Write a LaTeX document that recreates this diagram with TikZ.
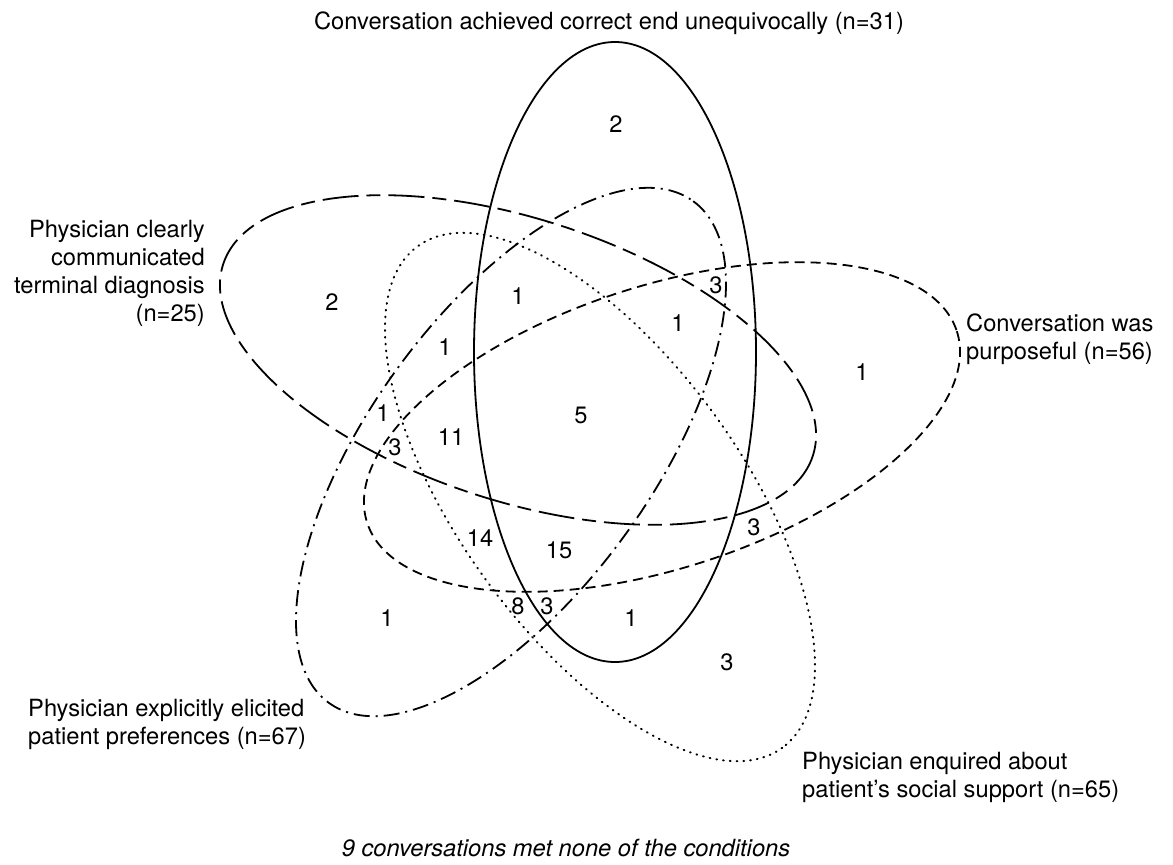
\documentclass[tikz,border=0pt]{standalone}
\usepackage{fontspec}
\setmainfont{TeX Gyre Heros}
\begin{document}
\begin{tikzpicture}[x=1pt,y=-1pt,
  every node/.style={font=\fontsize{23.7}{28}\selectfont, inner sep=0pt},
  setline/.style={line width=1.8pt, black},
  setA/.style={setline},
  setB/.style={setline, dash pattern=on 36pt off 8pt on 14pt off 8pt},
  setC/.style={setline, dash pattern=on 10pt off 6pt},
  setD/.style={setline, dash pattern=on 16pt off 6pt on 2pt off 6pt},
  setE/.style={setline, line cap=round, line width=2pt, dash pattern=on 0.8pt off 6pt},
  lbl/.style={},
  cnt/.style={anchor=center}]
\useasboundingbox (0,0) rectangle (1173,865);
% sets
\draw[setA, rotate around={90:(615,352)}] (615,352) ellipse [x radius=310, y radius=141];
\draw[setB, rotate around={-18:(518,360)}] (518,360) ellipse [x radius=310, y radius=141];
\draw[setC, rotate around={18:(662,427)}] (662,427) ellipse [x radius=310, y radius=141];
\draw[setD, rotate around={54:(511,452)}] (511,452) ellipse [x radius=310, y radius=141];
\draw[setE, rotate around={-54:(600,497)}] (600,497) ellipse [x radius=310, y radius=141];
% labels
\node[lbl, anchor=base] (tA) at (609,29) {Conversation achieved correct end unequivocally (n=31)};
\node[lbl, anchor=north east, align=right] (tB) at (205,220) {Physician clearly\\communicated\\terminal diagnosis\\(n=25)};
\node[lbl, anchor=north west, align=left] (tC) at (966,314) {Conversation was\\purposeful (n=56)};
\node[lbl, anchor=north west, align=left] (tD) at (28,699) {Physician explicitly elicited\\patient preferences (n=67)};
\node[lbl, anchor=north west, align=left] (tE) at (802,752) {Physician enquired about\\patient’s social support (n=65)};
\node[lbl, anchor=base, font=\fontsize{23.7}{28}\selectfont\itshape] (tN) at (566,856) {9 conversations met none of the conditions};
% counts
\node[cnt] (c1) at (616,124) {2};
\node[cnt] (c2) at (332,302) {2};
\node[cnt] (c3) at (518,296) {1};
\node[cnt] (c4) at (716,285) {3};
\node[cnt] (c5) at (678,323) {1};
\node[cnt] (c6) at (445,347) {1};
\node[cnt] (c7) at (862,372) {1};
\node[cnt] (c8) at (383,413) {1};
\node[cnt] (c9) at (395,447) {3};
\node[cnt] (c10) at (451,437) {11};
\node[cnt] (c11) at (581,415) {5};
\node[cnt] (c12) at (480,538) {14};
\node[cnt] (c13) at (559,550) {15};
\node[cnt] (c14) at (754,527) {3};
\node[cnt] (c15) at (387,618) {1};
\node[cnt] (c16) at (518,606) {8};
\node[cnt] (c17) at (547,606) {3};
\node[cnt] (c18) at (631,618) {1};
\node[cnt] (c19) at (727,662) {3};
\end{tikzpicture}
\end{document}
